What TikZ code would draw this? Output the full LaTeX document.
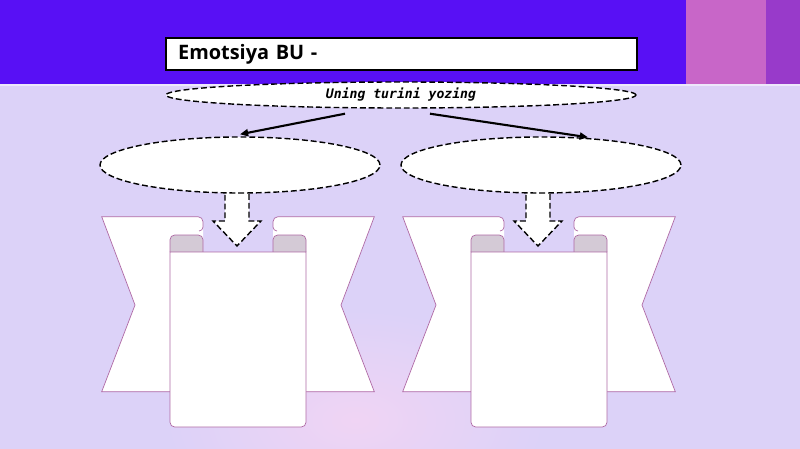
\documentclass[tikz,border=0pt]{standalone}
\usepackage{fontspec}
\setsansfont{Open Sans}
\newfontfamily\monofont{DejaVu Sans Mono}
\usetikzlibrary{arrows.meta,shapes.geometric}

\definecolor{bandblue}{RGB}{88,16,245}
\definecolor{bandpink}{RGB}{200,102,200}
\definecolor{bandplum}{RGB}{152,58,202}
\definecolor{lavbg}{RGB}{220,210,248}
\definecolor{blobpink}{RGB}{240,212,244}
\definecolor{rimline}{RGB}{175,105,165}
\definecolor{tabgray}{RGB}{212,202,214}

\tikzset{
  bubble/.style={draw,ellipse,fill=white,line width=1.2pt,dash pattern=on 5pt off 2.5pt,inner sep=0pt},
  titlebox/.style={draw,fill=white,line width=2pt,text width=13.4cm,align=left,inner xsep=0.36cm,minimum height=0.96cm,font=\sffamily\fontsize{17}{19}\selectfont},
  conn/.style={-{Triangle[length=7pt,width=6pt]},line width=1.8pt},
  ribbon/.style={draw=rimline,line width=0.6pt},
  rolltab/.style={draw=rimline,fill=tabgray,line width=0.6pt,rounded corners=4pt},
  downarrow/.style={draw,fill=white,line width=1.2pt,dash pattern=on 5pt off 2.5pt,line join=miter}
}

\begin{document}
\begin{tikzpicture}[x=0.03cm,y=-0.03cm]
      \useasboundingbox (0,0) rectangle (800,449);
      \fill[lavbg] (0,0) rectangle (800,449);
      \shade[inner color=blobpink,outer color=lavbg] (355,420) ellipse [x radius=190,y radius=110];
      \fill[bandblue] (0,0) rectangle (686,84);
      \fill[bandpink] (686,0) rectangle (766,84);
      \fill[bandplum] (766,0) rectangle (800,84);
      \fill[white,opacity=.5] (0,84) rectangle (800,86);

      \foreach \dx in {0,301} {
        \begin{scope}[xshift=\dx*0.03cm]
          \draw[downarrow] (225,186) -- (225,221) -- (213,221) -- (237,246) -- (261,221) -- (249,221) -- (249,186);
          \fill[white] (101.7,216.7) -- (198,216.7) arc[start angle=-90,end angle=0,radius=5] -- (203,391.7) -- (101.7,391.7) -- (135,305) -- cycle;
          \draw[ribbon] (170,391.7) -- (101.7,391.7) -- (135,305) -- (101.7,216.7) -- (198,216.7) arc[start angle=-90,end angle=0,radius=5] -- (203,227) arc[start angle=0,end angle=90,radius=4];
          \fill[white] (374.3,216.7) -- (278,216.7) arc[start angle=-90,end angle=-180,radius=5] -- (273,391.7) -- (374.3,391.7) -- (341,305) -- cycle;
          \draw[ribbon] (306,391.7) -- (374.3,391.7) -- (341,305) -- (374.3,216.7) -- (278,216.7) arc[start angle=-90,end angle=-180,radius=5] -- (273,227) arc[start angle=180,end angle=90,radius=4];
          \draw[rolltab] (170,252) -- (170,235) -- (203,235) -- (203,252);
          \draw[rolltab] (273,252) -- (273,235) -- (306,235) -- (306,252);
          \draw[ribbon,fill=white] (306,252) -- (170,252) -- (170,380) [rounded corners=4pt] -- (170,427) -- (306,427) -- (306,380) [sharp corners] -- cycle;
        \end{scope}
      }

      \node[titlebox] (title) at (401.5,54) {\bfseries Emotsiya BU -};
      \node[bubble,minimum width=14.1cm,minimum height=0.78cm] (tema) at (401,95) {\monofont\fontsize{11.2}{13}\selectfont\bfseries\itshape Uning turini yozing};
      \node[bubble,minimum width=8.4cm,minimum height=1.68cm] (leftEll) at (240,165) {};
      \node[bubble,minimum width=8.4cm,minimum height=1.68cm] (rightEll) at (541,165) {};

      \draw[conn] ([xshift=-1.68cm,yshift=-0.15cm]tema.south) -- ([yshift=0.06cm]leftEll.north);
      \draw[conn] ([xshift=0.87cm,yshift=-0.15cm]tema.south) -- ([xshift=1.41cm,yshift=-0.03cm]rightEll.north);
    \end{tikzpicture}
\end{document}
